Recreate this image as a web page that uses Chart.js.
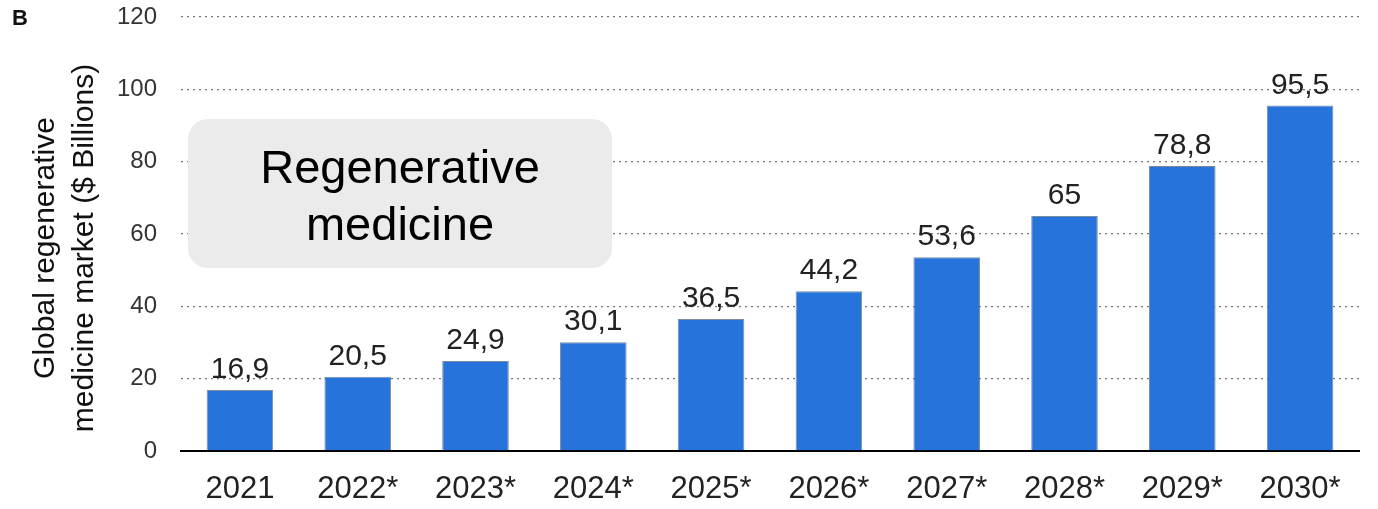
<!DOCTYPE html>
<html lang="en">
<head>
  <meta charset="utf-8">
  <title>Global regenerative medicine market</title>
  <script src="https://cdn.jsdelivr.net/npm/chart.js"></script>
  <style>
    html, body { margin: 0; padding: 0; background: #fff; overflow: hidden; }
    #marketChart { display: block; }
  </style>
</head>
<body>
<canvas id="marketChart" width="1378" height="509"></canvas>

<script>
  // market size by year, $ billions (* = forecast)
  const years = ['2021', '2022*', '2023*', '2024*', '2025*', '2026*', '2027*', '2028*', '2029*', '2030*'];
  const marketValues = [16.9, 20.5, 24.9, 30.1, 36.5, 44.2, 53.6, 65, 78.8, 95.5];
  const yTicks = [0, 20, 40, 60, 80, 100, 120];
  const yTitle = ['Global regenerative', 'medicine market ($ Billions)'];
  const boxText = ['Regenerative', 'medicine'];

  const FONT = '"Liberation Sans", Arial, sans-serif';

  // value labels above bars, written with decimal comma
  const barLabels = {
    id: 'barLabels',
    afterDatasetsDraw(chart) {
      const ctx = chart.ctx;
      const meta = chart.getDatasetMeta(0);
      ctx.save();
      ctx.font = '30px ' + FONT;
      ctx.fillStyle = '#222';
      ctx.textAlign = 'center';
      ctx.textBaseline = 'alphabetic';
      meta.data.forEach((bar, i) => {
        const txt = String(marketValues[i]).replace('.', ',');
        ctx.fillText(txt, bar.x, bar.y - 12);
      });
      ctx.restore();
    }
  };

  // grey rounded box with caption, axis title and panel letter
  const extras = {
    id: 'extras',
    beforeDatasetsDraw(chart) {
      const ctx = chart.ctx;
      const area = chart.chartArea;
      const y = chart.scales.y;
      const left = area.left + 7;
      const right = area.left + 431;
      const top = y.getPixelForValue(91.8);
      const bottom = y.getPixelForValue(50.6);
      ctx.save();
      ctx.fillStyle = '#ebebeb';
      ctx.beginPath();
      ctx.roundRect(left, top, right - left, bottom - top, 20);
      ctx.fill();
      ctx.fillStyle = '#000';
      ctx.font = '47px ' + FONT;
      ctx.textAlign = 'center';
      ctx.textBaseline = 'alphabetic';
      const cx = (left + right) / 2;
      ctx.fillText(boxText[0], cx, top + 64);
      ctx.fillText(boxText[1], cx, top + 121);
      ctx.restore();
    },
    afterDraw(chart) {
      const ctx = chart.ctx;
      ctx.save();
      ctx.fillStyle = '#111';
      ctx.font = 'bold 22px ' + FONT;
      ctx.textBaseline = 'top';
      ctx.fillText('B', 12, 8);

      // rotated two-line axis title
      ctx.fillStyle = '#111';
      ctx.font = '30px ' + FONT;
      ctx.textAlign = 'center';
      ctx.textBaseline = 'middle';
      ctx.translate(0, 248);
      ctx.rotate(-Math.PI / 2);
      ctx.fillText(yTitle[0], 0, 46);
      ctx.fillText(yTitle[1], 0, 85);
      ctx.restore();
    }
  };

  const ctx = document.getElementById('marketChart').getContext('2d');
  new Chart(ctx, {
    type: 'bar',
    data: {
      labels: years,
      datasets: [{
        data: marketValues,
        backgroundColor: '#2673dc',
        borderColor: 'rgba(70,90,120,0.7)',
        borderWidth: 1,
        barPercentage: 0.565,
        categoryPercentage: 1
      }]
    },
    options: {
      responsive: false,
      animation: false,
      devicePixelRatio: 1,
      layout: { padding: { top: 17, right: 19, left: 0, bottom: 0 } },
      plugins: {
        legend: { display: false },
        tooltip: { enabled: false }
      },
      scales: {
        x: {
          grid: { display: false, drawTicks: false },
          border: { display: true, color: '#000', width: 2 },
          ticks: {
            color: '#222',
            font: { family: FONT, size: 31 },
            padding: 20,
            maxRotation: 0,
            autoSkip: false
          },
          afterFit(scale) { scale.height = 58; }
        },
        y: {
          min: 0,
          max: 120,
          afterBuildTicks(scale) {
            scale.ticks = yTicks.map(v => ({ value: v }));
          },
          grid: {
            drawTicks: false,
            color: c => c.tick.value === 0 ? 'rgba(0,0,0,0)' : '#777',
            lineWidth: 1.3
          },
          border: { display: false, dash: [2, 4] },
          ticks: {
            color: '#333',
            font: { family: FONT, size: 24 },
            padding: 24
          },
          afterFit(scale) {
            scale.width = 181;
            scale.paddingTop = 0;
            scale.paddingBottom = 0;
          }
        }
      }
    },
    plugins: [barLabels, extras]
  });
</script>
</body>
</html>
